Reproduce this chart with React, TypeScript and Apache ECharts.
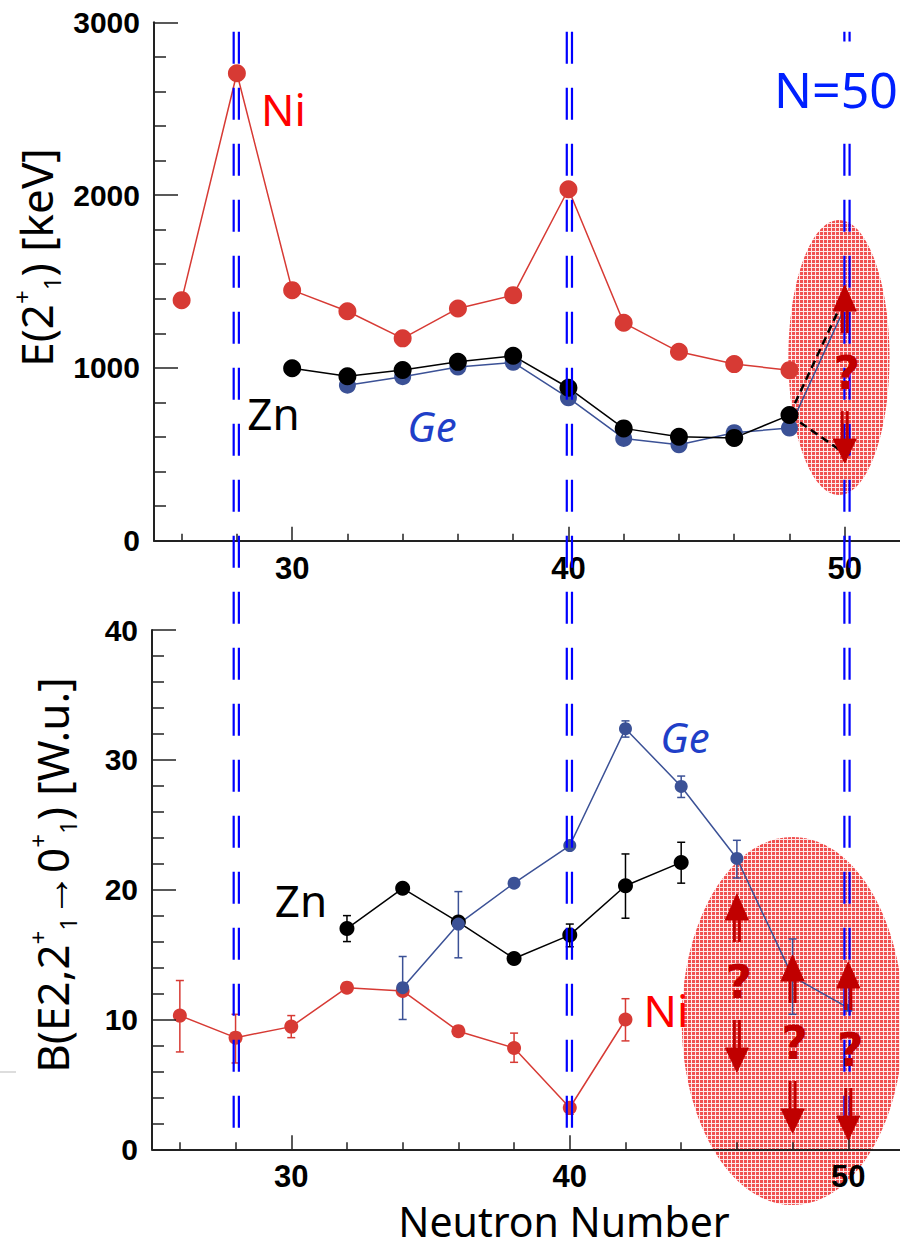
import React, { useEffect, useRef } from 'react';
import * as echarts from 'echarts';

// ---------- axis ticks ----------
const X_MAJOR_TICKS = [30, 40, 50];
const X_MINOR_TICKS = [26, 28, 32, 34, 36, 38, 42, 44, 46, 48];
const MAGIC_NUMBERS = [28, 40, 50];

// ---------- top panel: E(2+1) [keV] ----------
const NI_E2 = [[26, 1392], [28, 2705], [30, 1450], [32, 1328], [34, 1171], [36, 1344], [38, 1421], [40, 2034], [42, 1261], [44, 1093], [46, 1022], [48, 987]];
const ZN_E2 = [[30, 998], [32, 952], [34, 988], [36, 1035], [38, 1070], [40, 885], [42, 650], [44, 602], [46, 595], [48, 727]];
const GE_E2 = [[32, 900], [34, 949], [36, 1005], [38, 1032], [40, 827], [42, 592], [44, 555], [46, 625], [48, 652], [50, 1350]];
const ZN_E2_GUESS_HIGH = [[48, 727], [50, 1411]];
const ZN_E2_GUESS_LOW = [[48, 727], [50, 505]];
const TOP_UNKNOWN = [[50, 970]];
const TOP_REGION = [[49.79, 1060, 1.83, 796]];

// ---------- bottom panel: B(E2) [W.u.] ----------
const NI_BE2 = [[26, 10.3], [28, 8.6], [30, 9.45], [32, 12.45], [34, 12.2], [36, 9.1], [38, 7.8], [40, 3.2], [42, 10.0]];
const NI_BE2_ERR = [[26, 7.5, 13.0], [28, 6.65, 10.4], [30, 8.6, 10.3], [38, 6.7, 8.95], [40, 2.7, 3.6], [42, 8.35, 11.6]];
const ZN_BE2 = [[32, 17.0], [34, 20.1], [36, 17.5], [38, 14.7], [40, 16.5], [42, 20.3], [44, 22.1]];
const ZN_BE2_ERR = [[32, 16.0, 18.0], [40, 15.6, 17.35], [42, 17.8, 22.75], [44, 20.5, 23.65]];
const GE_BE2 = [[34, 12.45], [36, 17.35], [38, 20.5], [40, 23.4], [42, 32.4], [44, 27.95], [46, 22.4], [48, 13.3], [50, 10.9]];
const GE_BE2_ERR = [[34, 10.0, 14.85], [36, 14.75, 19.85], [42, 31.75, 33.0], [44, 27.1, 28.75], [46, 20.9, 23.8], [48, 10.4, 16.2]];
const BOTTOM_UNKNOWN = [[46, 12.89], [48, 8.19], [50, 7.65]];
const BOTTOM_REGION = [[48.0, 9.88, 3.98, 14.17]];

const NI_COLOR = '#d73a34';
const ZN_COLOR = '#000000';
const GE_COLOR = '#3b5196';
const ARROW_COLOR = '#c00000';
const AXIS_COLOR = '#222222';
const TITLE_FONT = 'Noto Sans';

const axisLineStyle = { color: AXIS_COLOR, width: 2 };
const tickLineStyle = { color: AXIS_COLOR, width: 1.5 };
const tickFont = { fontFamily: 'Liberation Sans', fontWeight: 'bold' as const, fontSize: 30, color: '#000' };

function makeScreenTone(): any {
  try {
    const c = document.createElement('canvas');
    c.width = 4;
    c.height = 4;
    const ctx = c.getContext('2d');
    if (!ctx) return 'rgba(238, 40, 40, 0.5)';
    ctx.clearRect(0, 0, 4, 4);
    ctx.fillStyle = 'rgba(250, 190, 190, 0.35)';
    ctx.fillRect(0, 0, 4, 4);
    ctx.clearRect(0, 0, 3, 3);
    ctx.fillStyle = 'rgba(236, 35, 35, 0.8)';
    ctx.fillRect(0, 0, 3, 3);
    return { image: c, repeat: 'repeat', imageWidth: 4, imageHeight: 4 };
  } catch (e) {
    return 'rgba(238, 40, 40, 0.5)';
  }
}

function errorBarRender(color: string) {
  return (params: any, api: any) => {
    const n = api.value(0);
    const p1 = api.coord([n, api.value(1)]);
    const p2 = api.coord([n, api.value(2)]);
    const style = { stroke: color, lineWidth: 1.5, fill: 'none' };
    return {
      type: 'group',
      children: [
        { type: 'line', shape: { x1: p1[0], y1: p1[1], x2: p2[0], y2: p2[1] }, style },
        { type: 'line', shape: { x1: p1[0] - 4, y1: p1[1], x2: p1[0] + 4, y2: p1[1] }, style },
        { type: 'line', shape: { x1: p2[0] - 4, y1: p2[1], x2: p2[0] + 4, y2: p2[1] }, style },
      ],
    };
  };
}

function makeEllipseRender(fill: any) {
  return (params: any, api: any) => {
    const c = api.coord([api.value(0), api.value(1)]);
    const s = api.size([api.value(2), api.value(3)]);
    return {
      type: 'ellipse',
      shape: { cx: c[0], cy: c[1], rx: s[0], ry: s[1] },
      style: { fill, stroke: 'none' },
    };
  };
}

function unknownRender(params: any, api: any) {
  const p = api.coord([api.value(0), api.value(1)]);
  const x = p[0];
  const c = p[1];
  const fillStyle = { fill: ARROW_COLOR, stroke: ARROW_COLOR, lineWidth: 1 };
  const shaft = { stroke: ARROW_COLOR, lineWidth: 3 };
  return {
    type: 'group',
    children: [
      { type: 'polygon', shape: { points: [[x, c - 88], [x - 11.5, c - 62], [x + 11.5, c - 62]] }, style: fillStyle },
      { type: 'line', shape: { x1: x - 2.5, y1: c - 63, x2: x - 2.5, y2: c - 40 }, style: shaft },
      { type: 'line', shape: { x1: x + 2.5, y1: c - 63, x2: x + 2.5, y2: c - 40 }, style: shaft },
      { type: 'line', shape: { x1: x - 2.5, y1: c + 38, x2: x - 2.5, y2: c + 67 }, style: shaft },
      { type: 'line', shape: { x1: x + 2.5, y1: c + 38, x2: x + 2.5, y2: c + 67 }, style: shaft },
      { type: 'polygon', shape: { points: [[x - 11.5, c + 66], [x + 11.5, c + 66], [x, c + 90]] }, style: fillStyle },
      {
        type: 'text',
        style: {
          text: '?', x: x + 2, y: c, fill: ARROW_COLOR, fontSize: 46, fontWeight: 'bold', fontFamily: 'DejaVu Sans',
          align: 'center', verticalAlign: 'middle', textAlign: 'center', textVerticalAlign: 'middle',
        },
      },
    ],
  };
}

function magicLineRender(params: any, api: any) {
  const x = api.coord([api.value(0), 0])[0];
  const cs = params.coordSys;
  const y1 = cs.y;
  const y2 = cs.y + cs.height;
  const style = { stroke: '#0000ff', lineWidth: 2.2, lineDash: [32, 24] };
  return {
    type: 'group',
    children: [
      { type: 'line', shape: { x1: x - 2.6, y1, x2: x - 2.6, y2 }, style },
      { type: 'line', shape: { x1: x + 2.6, y1, x2: x + 2.6, y2 }, style },
    ],
  };
}

const plainNumber = (v: number) => String(v);

function mainXAxis(gridIndex: number) {
  return {
    gridIndex, type: 'value', min: 25, max: 52, position: 'bottom', z: 3,
    axisLine: { show: true, onZero: false, lineStyle: axisLineStyle },
    axisTick: { show: true, inside: true, length: 14, customValues: X_MAJOR_TICKS, lineStyle: tickLineStyle },
    axisLabel: { show: true, customValues: X_MAJOR_TICKS, margin: 12, formatter: plainNumber, ...tickFont, fontSize: 31 },
    splitLine: { show: false },
  };
}
function minorXAxis(gridIndex: number) {
  return {
    gridIndex, type: 'value', min: 25, max: 52, position: 'bottom', z: 3,
    axisLine: { show: false, onZero: false },
    axisTick: { show: true, inside: true, length: 7, customValues: X_MINOR_TICKS, lineStyle: tickLineStyle },
    axisLabel: { show: false },
    splitLine: { show: false },
  };
}
function valueYAxis(gridIndex: number, max: number, interval: number) {
  return {
    gridIndex, type: 'value', min: 0, max, interval, z: 3,
    axisLine: { show: true, onZero: false, lineStyle: axisLineStyle },
    axisTick: { show: true, inside: true, length: 24, lineStyle: tickLineStyle },
    minorTick: { show: true, splitNumber: 5, length: 12, lineStyle: tickLineStyle },
    axisLabel: { margin: 14, padding: [8, 0, 0, 0], formatter: plainNumber, ...tickFont },
    splitLine: { show: false },
    minorSplitLine: { show: false },
  };
}

function lineSeries(name: string, data: any[], color: string, xi: number, yi: number, size: number) {
  return {
    name, type: 'line', xAxisIndex: xi, yAxisIndex: yi, data,
    symbol: 'circle', symbolSize: size,
    lineStyle: { color, width: 1.5 },
    itemStyle: { color },
    z: 2,
  };
}

function label(text: string, x: number, y: number, color: string, size: number, italic = false, z = 10) {
  return {
    type: 'text', x, y, z,
    style: {
      text, fill: color, fontSize: size, fontFamily: TITLE_FONT, fontStyle: italic ? 'italic' : 'normal',
      align: 'center', verticalAlign: 'middle', textAlign: 'center', textVerticalAlign: 'middle',
    },
  };
}

const titleRich = {
  m: { fontSize: 44, fontFamily: TITLE_FONT, fill: '#000', lineHeight: 54 },
  sup: { fontSize: 24, fontFamily: TITLE_FONT, fill: '#000', lineHeight: 24, verticalAlign: 'top' },
  sub: { fontSize: 24, fontFamily: TITLE_FONT, fill: '#000', lineHeight: 24, verticalAlign: 'bottom' },
};

export default function App() {
  const ref = useRef<HTMLDivElement>(null);
  useEffect(() => {
    if (!ref.current) return;
    const chart = echarts.init(ref.current, null, { renderer: 'svg' });
    const tone = makeScreenTone();
    const ellipseRender = makeEllipseRender(tone);
    const option: any = {
      animation: false,
      backgroundColor: '#ffffff',
      grid: [
        { left: 154, right: 0, top: 22.3, height: 518.4, outerBoundsMode: 'none', containLabel: false },
        { left: 152, right: -4, top: 630, height: 519.3, outerBoundsMode: 'none', containLabel: false },
        { left: 153, right: -2.5, top: 31.7, height: 1096, outerBoundsMode: 'none', containLabel: false },
      ],
      xAxis: [
        mainXAxis(0), minorXAxis(0), mainXAxis(1), minorXAxis(1),
        { gridIndex: 2, type: 'value', min: 25, max: 52, show: false },
      ],
      yAxis: [
        valueYAxis(0, 3000, 1000),
        valueYAxis(1, 40, 10),
        { gridIndex: 2, type: 'value', min: 0, max: 1, show: false },
      ],
      series: [
        // top panel
        { type: 'custom', xAxisIndex: 0, yAxisIndex: 0, data: TOP_REGION, renderItem: ellipseRender, z: 1, silent: true, clip: false },
        lineSeries('Ni', NI_E2, NI_COLOR, 0, 0, 18),
        lineSeries('Ge', GE_E2.map(([n, v]) => (n === 50 ? { value: [n, v], symbolSize: 0 } : [n, v])), GE_COLOR, 0, 0, 17),
        lineSeries('Zn', ZN_E2, ZN_COLOR, 0, 0, 18),
        {
          type: 'line', xAxisIndex: 0, yAxisIndex: 0, data: ZN_E2_GUESS_HIGH, symbol: 'none', z: 3,
          lineStyle: { color: '#000', width: 2.5, type: [8, 5] },
        },
        {
          type: 'line', xAxisIndex: 0, yAxisIndex: 0, data: ZN_E2_GUESS_LOW, symbol: 'none', z: 3,
          lineStyle: { color: '#000', width: 2.5, type: [8, 5] },
        },
        // bottom panel
        { type: 'custom', xAxisIndex: 2, yAxisIndex: 1, data: BOTTOM_REGION, renderItem: ellipseRender, z: 1, silent: true, clip: false },
        lineSeries('Ni', NI_BE2, NI_COLOR, 2, 1, 14),
        { type: 'custom', xAxisIndex: 2, yAxisIndex: 1, data: NI_BE2_ERR, renderItem: errorBarRender(NI_COLOR), z: 2 },
        lineSeries('Zn', ZN_BE2, ZN_COLOR, 2, 1, 15),
        { type: 'custom', xAxisIndex: 2, yAxisIndex: 1, data: ZN_BE2_ERR, renderItem: errorBarRender(ZN_COLOR), z: 2 },
        lineSeries('Ge', GE_BE2.map(([n, v]) => (n === 48 ? { value: [n, v], symbolSize: 0 } : n === 50 ? { value: [n, v], symbol: 'rect', symbolSize: 8 } : [n, v])), GE_COLOR, 2, 1, 13),
        { type: 'custom', xAxisIndex: 2, yAxisIndex: 1, data: GE_BE2_ERR, renderItem: errorBarRender(GE_COLOR), z: 2 },
        // magic-number lines across both panels
        { type: 'custom', xAxisIndex: 4, yAxisIndex: 2, data: MAGIC_NUMBERS.map((n) => [n, 0]), renderItem: magicLineRender, z: 4, silent: true, clip: false },
        // unknown arrows
        { type: 'custom', xAxisIndex: 0, yAxisIndex: 0, data: TOP_UNKNOWN, renderItem: unknownRender, z: 5, silent: true, clip: false },
        { type: 'custom', xAxisIndex: 2, yAxisIndex: 1, data: BOTTOM_UNKNOWN, renderItem: unknownRender, z: 5, silent: true, clip: false },
      ],
      graphic: [
        { type: 'line', z: 1, shape: { x1: 0, y1: 1072, x2: 16, y2: 1072 }, style: { stroke: '#dddddd', lineWidth: 2 } },
        label('Ni', 283.5, 109, '#ff0000', 44),
        label('Zn', 273.5, 412.5, '#000000', 44),
        label('Ge', 432, 425.5, '#1f3fc8', 42, true),
        {
          type: 'text', x: 836, y: 88.5, z: 10,
          style: {
            text: 'N=50', fill: '#0020ff', fontSize: 50, fontFamily: TITLE_FONT,
            backgroundColor: '#ffffff', padding: [14, 4, 30, 4],
            align: 'center', verticalAlign: 'middle', textAlign: 'center', textVerticalAlign: 'middle',
          },
        },
        label('Ge', 685, 736.5, '#1f3fc8', 42, true),
        label('Zn', 301, 900, '#000000', 44),
        label('Ni', 666, 1010, '#ff0000', 44),
        label('Neutron Number', 564, 1221, '#000000', 41),
        {
          type: 'text', x: 36, y: 257.5, rotation: Math.PI / 2, z: 10,
          style: {
            text: '{m|E(2}{sup|+}{sub|1}{m|) [keV]}', rich: titleRich,
            align: 'center', verticalAlign: 'middle', textAlign: 'center', textVerticalAlign: 'middle',
          },
        },
        {
          type: 'text', x: 52, y: 875, rotation: Math.PI / 2, z: 10,
          style: {
            text: '{m|B(E2,2}{sup|+}{sub|1}{m|→0}{sup|+}{sub|1}{m|) [W.u.]}', rich: titleRich,
            align: 'center', verticalAlign: 'middle', textAlign: 'center', textVerticalAlign: 'middle',
          },
        },
      ],
    };
    chart.setOption(option);
    return () => chart.dispose();
  }, []);
  return <div ref={ref} style={{ position: 'absolute', left: 0, top: 0, width: 900, height: 1249, background: '#fff' }} />;
}
